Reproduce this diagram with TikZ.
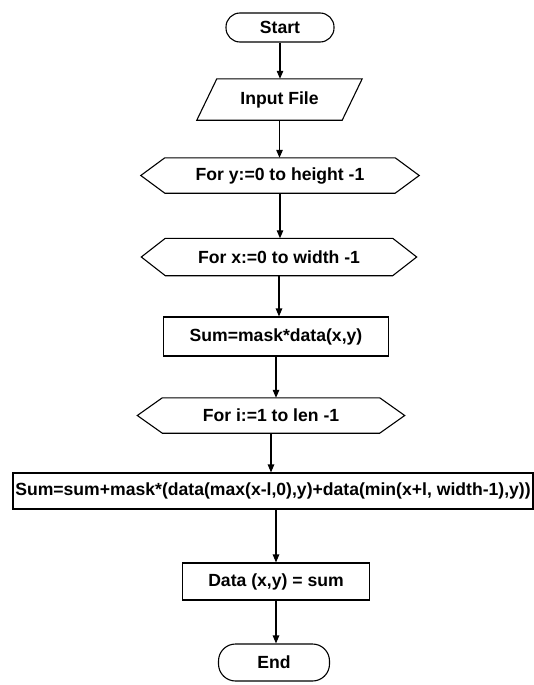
\documentclass[tikz,border=0pt]{standalone}
\usepackage{fontspec}
\setmainfont{Liberation Sans}
\usetikzlibrary{arrows.meta,calc}

\tikzset{
  line/.style={line width=1.1pt, black},
  arr/.style={line, -{Triangle[length=8pt,width=6.5pt]}},
  lbl/.style={font=\fontsize{17.6}{20}\selectfont\bfseries, inner sep=1pt, align=center},
  procbox/.style={lbl, draw, line, rectangle},
  termbox/.style={lbl, draw, line, rectangle, rounded corners=14pt},
  ghost/.style={lbl, rectangle},
}

\begin{document}
\begin{tikzpicture}[x=1pt, y=-1pt]
  \useasboundingbox (0,0) rectangle (534,685);

  % terminals, input, loops and process boxes
  \node[termbox, minimum width=108pt, minimum height=29pt] (start) at (280,27.5) {Start};

  \node[ghost, minimum width=145pt, minimum height=41pt] (io) at (279.5,99.5) {Input File};
  \draw[line] ($(io.north west)+(10pt,0)$) -- ($(io.north east)+(10pt,0)$)
              -- ($(io.south east)+(-10pt,0)$) -- ($(io.south west)+(-10pt,0)$) -- cycle;

  \node[ghost, minimum width=230pt, minimum height=35pt] (hy) at (280,175.5) {For y:=0 to height -1};
  \draw[line] (hy.north west) -- (hy.north east) -- ($(hy.east)+(24pt,0)$)
              -- (hy.south east) -- (hy.south west) -- ($(hy.west)+(-24pt,0)$) -- cycle;

  \node[ghost, minimum width=227pt, minimum height=37pt] (hx) at (279,257) {For x:=0 to width -1};
  \draw[line] (hx.north west) -- (hx.north east) -- ($(hx.east)+(24pt,0)$)
              -- (hx.south east) -- (hx.south west) -- ($(hx.west)+(-24pt,0)$) -- cycle;

  \node[procbox, minimum width=225pt, minimum height=39pt] (sm) at (276,336.5) {Sum=mask*data(x,y)};

  \node[ghost, minimum width=217pt, minimum height=35pt] (hi) at (271,415.5) {For i:=1 to len -1};
  \draw[line] (hi.north west) -- (hi.north east) -- ($(hi.east)+(25pt,0)$)
              -- (hi.south east) -- (hi.south west) -- ($(hi.west)+(-25pt,0)$) -- cycle;

  \node[procbox, minimum width=520pt, minimum height=36pt] (acc) at (273,491)
    {Sum=sum+mask*(data(max(x-l,0),y)+data(min(x+l, width-1),y))};

  \node[procbox, minimum width=187pt, minimum height=37pt] (dt) at (276,581.5) {Data (x,y) = sum};

  \node[termbox, minimum width=111pt, minimum height=37pt, rounded corners=17pt] (en) at (274,662.5) {End};

  % connectors
  \draw[arr] (start.south) -- (start.south |- io.north);
  \draw[arr] (io.south) -- (io.south |- hy.north);
  \draw[arr] (hy.south) -- (hy.south |- hx.north);
  \draw[arr] (hx.south) -- (hx.south |- sm.north);
  \draw[arr] (sm.south) -- (sm.south |- hi.north);
  \draw[arr] (hi.south) -- (hi.south |- acc.north);
  \draw[arr] (acc.south -| dt.north) -- (dt.north);
  \draw[arr] (dt.south) -- (dt.south |- en.north);
\end{tikzpicture}
\end{document}
